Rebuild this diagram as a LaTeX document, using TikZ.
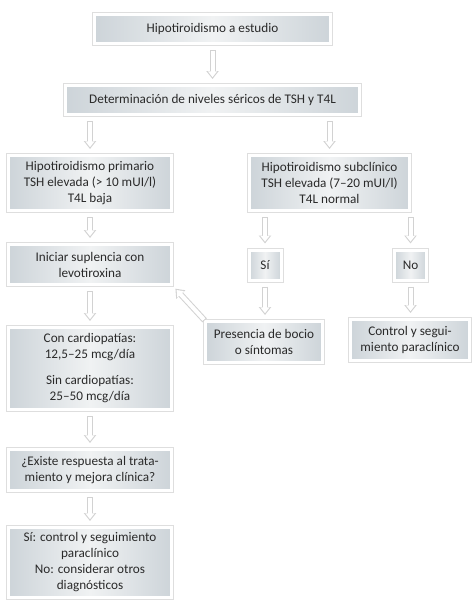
\documentclass[tikz,border=0pt]{standalone}
\usepackage{fontspec}
\setmainfont{Carlito}
\usetikzlibrary{arrows.meta,calc}
\definecolor{txt}{HTML}{2A2A2A}
\definecolor{frame}{HTML}{DEDEDE}
\definecolor{shA}{HTML}{CDD4D9}
\definecolor{shB}{HTML}{F0F2F3}
\definecolor{arr}{HTML}{D2D2D2}
\tikzset{
  box/.style={preaction={draw=frame,line width=5pt},
    draw=white,line width=3pt,
    left color=shA,right color=shA,middle color=shB,
    text=txt,font=\fontsize{13.2}{16}\selectfont,align=center,
    inner sep=0pt,minimum width=#1},
  arrout/.style={draw=arr,line width=6pt,shorten <=5pt,shorten >=5pt,
    -{Triangle[length=8pt,width=12pt]}},
  arrin/.style={draw=white,line width=4pt,shorten <=6pt,shorten >=6.8pt,
    -{Triangle[length=5.9pt,width=9pt]}},
}
\newcommand\harrow[2]{\draw[arrout] #1 -- #2; \draw[arrin] #1 -- #2;}
\begin{document}
\begin{tikzpicture}[x=1pt,y=-1pt]
\useasboundingbox (0,0) rectangle (474,608);
\node[box=236pt,minimum height=29pt] (b1) at (212.5,29) {Hipotiroidismo a estudio};
\node[box=294pt,minimum height=29pt] (b2) at (212.5,100) {Determinación de niveles séricos de TSH y T4L};
\node[box=163pt,minimum height=55pt] (pri) at (90,183) {Hipotiroidismo primario\\TSH elevada (> 10 mUI/l)\\T4L baja};
\node[box=160pt,minimum height=55pt] (sub) at (329.5,183) {Hipotiroidismo subclínico\\TSH elevada (7–20 mUI/l)\\T4L normal};
\node[box=163pt,minimum height=40pt] (ini) at (90,264.5) {Iniciar suplencia con\\levotiroxina};
\node[box=32pt,minimum height=30pt] (si) at (265,265) {Sí};
\node[box=32pt,minimum height=30pt] (no) at (410.5,265) {No};
\node[box=117pt,minimum height=41pt] (pre) at (264,342) {Presencia de bocio\\o síntomas};
\node[box=119pt,minimum height=41pt] (ctl) at (410,340) {Control y segui-\\miento paraclínico};
\node[box=163pt,minimum height=82pt] (dos) at (90,368.5) {Con cardiopatías:\\12,5–25 mcg/día\\[10pt]Sin cardiopatías:\\25–50 mcg/día};
\node[box=163pt,minimum height=41pt] (res) at (90,470) {¿Existe respuesta al trata-\\miento y mejora clínica?};
\node[box=163pt,minimum height=70pt] (fin) at (90,562.5) {Sí: control y seguimiento\\paraclínico\\No: considerar otros\\diagnósticos};
\harrow{(b1.south)}{(b2.north)}
\harrow{(b2.south -| pri.north)}{(pri.north)}
\harrow{(b2.south -| sub.north)}{(sub.north)}
\harrow{(pri.south)}{(ini.north)}
\harrow{(sub.south -| si.north)}{(si.north)}
\harrow{(sub.south -| no.north)}{(no.north)}
\harrow{(si.south)}{(pre.north -| si.south)}
\harrow{(no.south)}{(ctl.north -| no.south)}
\harrow{(ini.south)}{(dos.north)}
\harrow{(dos.south)}{(res.north)}
\harrow{(res.south)}{(fin.north)}
\harrow{($(pre.north west)+(4,4)$)}{($(ini.south east)+(-1,-1)$)}
\end{tikzpicture}
\end{document}
